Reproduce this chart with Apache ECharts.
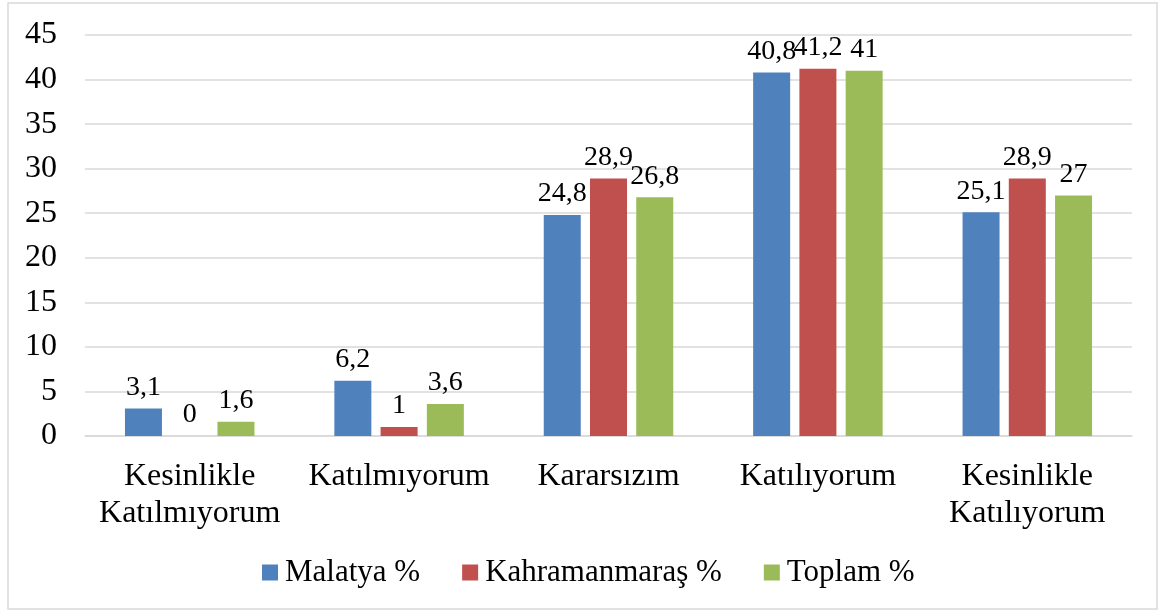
<!DOCTYPE html>
<html>
<head>
<meta charset="utf-8">
<script src="https://cdn.jsdelivr.net/npm/echarts@6/dist/echarts.min.js"></script>
<style>
html,body{margin:0;padding:0;background:#fff;}
#chart{width:1162px;height:612px;}
</style>
</head>
<body>
<div id="chart"></div>
<script>
const categories = ['Kesinlikle\nKatılmıyorum', 'Katılmıyorum', 'Kararsızım', 'Katılıyorum', 'Kesinlikle\nKatılıyorum'];
const malatya = [3.1, 6.2, 24.8, 40.8, 25.1];
const kahramanmaras = [0, 1, 28.9, 41.2, 28.9];
const toplam = [1.6, 3.6, 26.8, 41, 27];
const seriesNames = ['Malatya %', 'Kahramanmaraş %', 'Toplam %'];
const colors = ['#4f81bd', '#c0504d', '#9bbb59'];

const FONT = "'Liberation Serif', 'Times New Roman', serif";
const chart = echarts.init(document.getElementById('chart'));

function fmt(v) { return String(v).replace('.', ','); }

const dataSets = [malatya, kahramanmaras, toplam];
const series = dataSets.map((d, i) => ({
  name: seriesNames[i],
  type: 'bar',
  data: d,
  barWidth: 37,
  barGap: '25%',
  itemStyle: { color: colors[i] },
  label: {
    show: true,
    position: 'top',
    distance: 7,
    color: '#000',
    fontFamily: FONT,
    fontSize: 28,
    formatter: p => fmt(p.value)
  }
}));

chart.setOption({
  animation: false,
  backgroundColor: '#fff',
  textStyle: { fontFamily: FONT },
  graphic: [{
    type: 'rect',
    shape: { x: 8, y: 3, width: 1149, height: 606 },
    style: { fill: 'none', stroke: '#d9d9d9', lineWidth: 1.5 },
    silent: true
  }],
  grid: { left: 85, right: 30, top: 35, bottom: 176, containLabel: false },
  legend: {
    data: seriesNames,
    left: 257,
    top: 552,
    itemWidth: 16,
    itemHeight: 16,
    itemGap: 42,
    icon: 'rect',
    textStyle: { fontFamily: FONT, fontSize: 31, color: '#000', padding: [0, 0, 0, 2] }
  },
  xAxis: {
    type: 'category',
    data: categories,
    axisLine: { show: true, lineStyle: { color: '#d9d9d9', width: 1.5 } },
    axisTick: { show: false },
    axisLabel: {
      color: '#000',
      fontFamily: FONT,
      fontSize: 32,
      lineHeight: 37,
      margin: 22,
      interval: 0
    }
  },
  yAxis: {
    type: 'value',
    min: 0,
    max: 45,
    interval: 5,
    axisLine: { show: false },
    axisTick: { show: false },
    splitLine: { lineStyle: { color: '#d9d9d9', width: 1.5 } },
    axisLabel: {
      color: '#000',
      fontFamily: FONT,
      fontSize: 32,
      margin: 28
    }
  },
  series: series
});
</script>
</body>
</html>
